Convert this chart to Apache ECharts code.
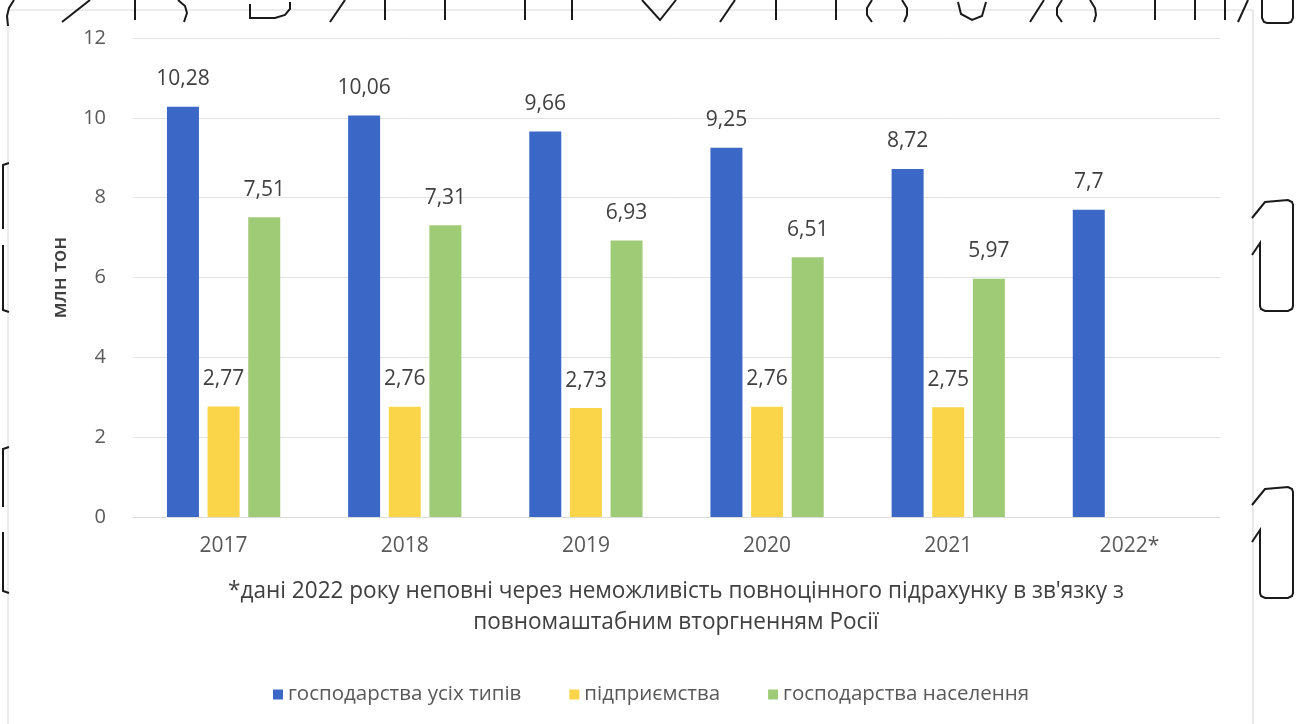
<!DOCTYPE html>
<html>
<head>
<meta charset="utf-8">
<script src="https://cdn.jsdelivr.net/npm/echarts@6/dist/echarts.min.js"></script>
<style>
  html, body { margin: 0; padding: 0; background: #ffffff; }
  #chart { width: 1302px; height: 724px; }
</style>
</head>
<body>
<div id="chart"></div>
<script>
// Роки та обсяги виробництва (млн тон)
const years = ['2017', '2018', '2019', '2020', '2021', '2022*'];
const allFarms = [10.28, 10.06, 9.66, 9.25, 8.72, 7.7];
const enterprises = [2.77, 2.76, 2.73, 2.76, 2.75, null];
const households = [7.51, 7.31, 6.93, 6.51, 5.97, null];
const seriesNames = ['господарства усіх типів', 'підприємства', 'господарства населення'];
const yTicks = [0, 2, 4, 6, 8, 10, 12];
const footnoteLines = [
  "*дані 2022 року неповні через неможливість повноцінного підрахунку в зв'язку з",
  'повномаштабним вторгненням Росії'
];

const colors = ['#3b68c6', '#fad54a', '#a0cb76'];
const baseFont = '"Open Sans", "Noto Sans", sans-serif';

const chart = echarts.init(document.getElementById('chart'), null, { renderer: 'canvas' });

function barSeries(name, data, color) {
  return {
    name: name,
    type: 'bar',
    data: data,
    barWidth: 32,
    barGap: '27%',
    itemStyle: { color: color },
    label: {
      show: true,
      position: 'top',
      distance: 17,
      color: '#404040',
      fontFamily: baseFont,
      fontSize: 21,
      formatter: p => (p.value == null ? '' : String(p.value).replace('.', ','))
    }
  };
}

// Decorative outline fragments around the page edges
const edgeStyle = { stroke: '#1a1a1a', lineWidth: 2, fill: null };
function stroke(points) {
  return { type: 'polyline', shape: { points: points }, style: edgeStyle };
}
function oneShape(dy) {
  return stroke([
    [1252, 218 + dy], [1265, 202 + dy], [1288, 200 + dy], [1292, 202 + dy], [1293, 205 + dy],
    [1293, 306 + dy], [1292, 309 + dy], [1288, 311 + dy], [1265, 311 + dy], [1261, 309 + dy],
    [1260, 306 + dy], [1260, 243 + dy], [1252, 255 + dy]
  ]);
}
function bracket(y1, y2, y3, y4) {
  return [
    stroke([[9, y1], [3, y1 + 2], [3, y2]]),
    stroke([[3, y3], [3, y4 - 2], [9, y4]])
  ];
}
const edgeMarks = [
  [[62, 22], [90, 0]], [[135, 0], [135, 20]], [[330, 22], [345, 0]], [[385, 0], [385, 20]],
  [[445, 0], [445, 20]], [[525, 0], [525, 20]], [[572, 0], [572, 20]], [[720, 22], [735, 0]],
  [[776, 0], [776, 20]], [[836, 0], [836, 20]], [[1030, 22], [1044, 0]], [[1155, 0], [1155, 20]],
  [[1195, 0], [1195, 20]], [[1225, 0], [1225, 20]], [[1238, 22], [1248, 0]],
  [[14, 0], [9, 8], [7, 16], [8, 26]],
  [[178, 0], [185, 6], [187, 13], [184, 22]],
  [[250, 4], [250, 18], [275, 18], [285, 15], [290, 9], [290, 2]],
  [[642, 0], [660, 20], [676, 0]],
  [[872, 0], [867, 8], [867, 15], [872, 22]],
  [[902, 0], [907, 8], [907, 15], [904, 22]],
  [[958, 2], [961, 14], [972, 20], [982, 16], [986, 2]],
  [[1062, 0], [1057, 8], [1057, 15], [1062, 22]],
  [[1090, 0], [1095, 8], [1096, 15], [1094, 22]],
  [[1262, 0], [1262, 18], [1264, 22], [1267, 23], [1288, 23], [1291, 22], [1293, 18], [1293, 0]]
];

const option = {
  backgroundColor: '#ffffff',
  animation: false,
  color: colors,
  grid: { left: 133, right: 82, top: 38, bottom: 207, containLabel: false },
  legend: {
    data: seriesNames,
    left: 'center',
    top: 679,
    itemWidth: 10,
    itemHeight: 10,
    itemGap: 48,
    icon: 'rect',
    textStyle: { color: '#595959', fontFamily: baseFont, fontSize: 20.5 }
  },
  xAxis: {
    type: 'category',
    data: years,
    axisLine: { show: true, lineStyle: { color: '#dcdcdc', width: 1 } },
    axisTick: { show: false },
    axisLabel: { color: '#595959', fontFamily: baseFont, fontSize: 21, margin: 19 }
  },
  yAxis: {
    type: 'value',
    min: yTicks[0],
    max: yTicks[yTicks.length - 1],
    interval: yTicks[1] - yTicks[0],
    name: 'млн тон',
    nameLocation: 'middle',
    nameGap: 63,
    nameRotate: 90,
    nameTextStyle: { color: '#404040', fontFamily: baseFont, fontSize: 20, fontWeight: 600 },
    axisLine: { show: false },
    axisTick: { show: false },
    axisLabel: { color: '#595959', fontFamily: baseFont, fontSize: 20, margin: 27 },
    splitLine: { lineStyle: { color: '#e2e2e2', width: 1 } }
  },
  series: [
    barSeries(seriesNames[0], allFarms, colors[0]),
    barSeries(seriesNames[1], enterprises, colors[1]),
    barSeries(seriesNames[2], households, colors[2])
  ],
  graphic: [
    // chart frame
    { type: 'line', shape: { x1: 8, y1: 10, x2: 1253, y2: 10 }, style: { stroke: '#ececec', lineWidth: 2 } },
    { type: 'line', shape: { x1: 8, y1: 10, x2: 8, y2: 724 }, style: { stroke: '#ececec', lineWidth: 2 } },
    { type: 'line', shape: { x1: 1253, y1: 10, x2: 1253, y2: 724 }, style: { stroke: '#e8e8e8', lineWidth: 2 } },
    // footnote
    {
      type: 'text', x: 676, y: 591, scaleX: 0.94, originX: 0, originY: 0,
      style: {
        text: footnoteLines[0], fill: '#404040', font: '24px ' + baseFont,
        align: 'center', verticalAlign: 'middle'
      }
    },
    {
      type: 'text', x: 676, y: 622, scaleX: 0.94, originX: 0, originY: 0,
      style: {
        text: footnoteLines[1], fill: '#404040', font: '24px ' + baseFont,
        align: 'center', verticalAlign: 'middle'
      }
    },
    oneShape(0),
    oneShape(287)
  ]
    .concat(bracket(163, 229, 245, 312))
    .concat(bracket(447, 507, 532, 593))
    .concat(edgeMarks.map(stroke))
};

chart.setOption(option);
</script>
</body>
</html>
